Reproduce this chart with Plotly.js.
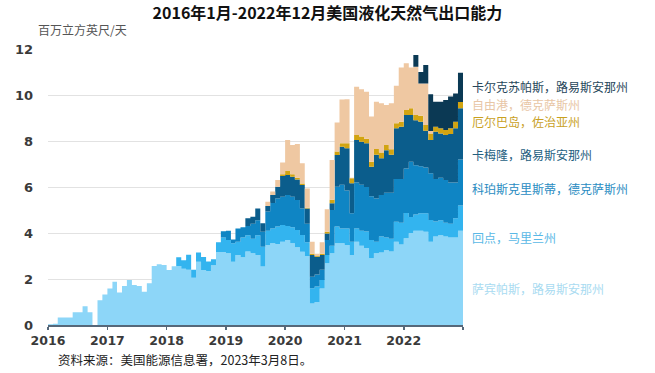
<!DOCTYPE html>
<html>
<head>
<meta charset="utf-8">
<script src="https://cdn.plot.ly/plotly-3.0.1.min.js"></script>
<style>html,body{margin:0;padding:0;background:#fff;}#chart{width:655px;height:373px;}</style>
</head>
<body>
<div id="chart"></div>
<script>
// Monthly LNG export capacity, Jan 2016 - Dec 2022 (one row per year)
const startYear = 2016;
const yearLabels = ['2016','2017','2018','2019','2020','2021','2022'];

const sabinePass = [
 0.03,0.05,0.33,0.33,0.33,0.55,0.55,0.82,0.55,0.00,1.08,1.33,
 1.59,1.88,1.41,1.70,1.96,1.74,1.70,1.45,1.81,2.57,2.64,2.61,
 2.39,2.55,2.57,2.45,2.40,2.05,2.75,2.39,2.35,2.60,3.17,3.17,
 3.12,2.75,3.04,2.95,3.20,3.12,3.04,2.54,3.48,3.55,3.52,3.62,
 3.70,3.55,3.38,3.19,3.00,0.94,1.00,1.59,2.68,3.12,3.55,3.55,
 3.48,3.04,3.62,3.45,3.35,2.90,3.12,3.15,3.25,3.20,3.62,3.50,
 3.77,4.00,4.10,4.10,4.05,3.62,3.85,3.90,3.85,3.80,3.80,4.10];
const covePoint = [
 0,0,0,0,0,0,0,0,0,0,0,0,
 0,0,0,0,0,0,0,0,0,0,0,0,
 0,0,0.38,0.37,0.65,0.35,0.40,0.57,0.41,0.26,0.43,0.63,
 0.58,0.80,0.58,0.85,0.70,0.63,0.86,0.86,0.62,0.65,0.76,0.73,
 0.60,0.70,0.75,0.72,0.60,0.66,0.67,0.37,0.36,0.33,0.73,0.65,
 0.72,0.58,0.58,0.65,0.71,0.80,0.50,0.70,0.55,0.55,0.87,0.95,
 1.10,0.70,0.70,0.76,0.81,0.95,0.65,0.65,0.60,0.60,0.84,1.10];
const corpusChristi = [
 0,0,0,0,0,0,0,0,0,0,0,0,
 0,0,0,0,0,0,0,0,0,0,0,0,
 0,0,0,0,0,0,0,0,0,0,0,0.28,
 0.40,0.17,0.58,0.45,0.40,0.65,0.65,0.65,0.83,1.10,1.22,1.23,
 1.35,1.33,1.30,1.16,0.80,0.50,0.53,0.44,0.66,1.55,1.73,1.90,
 1.65,1.24,2.00,2.00,1.94,1.90,1.88,1.80,1.95,2.00,1.86,1.90,
 1.93,2.40,2.15,2.04,1.99,2.03,1.85,1.85,1.85,1.80,1.56,2.00];
const cameron = [
 0,0,0,0,0,0,0,0,0,0,0,0,
 0,0,0,0,0,0,0,0,0,0,0,0,
 0,0,0,0,0,0,0,0,0,0,0,0,
 0,0,0,0,0.34,0.31,0.52,0.37,0.24,0.35,0.51,0.90,
 0.87,0.87,0.90,1.02,0.67,0.94,0.77,0.64,0.28,0.29,1.38,1.65,
 1.83,1.30,1.84,1.87,1.90,1.28,1.90,1.60,1.85,1.65,2.20,2.27,
 2.33,2.03,1.95,1.94,1.60,1.44,2.05,1.93,1.96,2.10,2.35,2.22];
const elbaIsland = [
 0,0,0,0,0,0,0,0,0,0,0,0,
 0,0,0,0,0,0,0,0,0,0,0,0,
 0,0,0,0,0,0,0,0,0,0,0,0,
 0,0,0,0,0,0,0,0,0,0,0,0.07,
 0.18,0.10,0.07,0.06,0.03,0.06,0.03,0.06,0.07,0.16,0.15,0.15,
 0.22,0.22,0.22,0.23,0.20,0.22,0.25,0.25,0.23,0.24,0.22,0.22,
 0.22,0.29,0.23,0.26,0.25,0.29,0.22,0.22,0.22,0.25,0.29,0.28];
const freeport = [
 0,0,0,0,0,0,0,0,0,0,0,0,
 0,0,0,0,0,0,0,0,0,0,0,0,
 0,0,0,0,0,0,0,0,0,0,0,0,
 0,0,0,0,0,0,0,0,0.19,0.15,0.29,0.51,
 1.34,1.28,1.47,0.88,0.84,0.52,0.10,0.50,0.98,1.72,1.26,1.90,
 1.91,0.02,2.10,2.05,2.04,1.96,2.06,2.14,1.74,2.00,1.63,2.36,
 2.03,1.78,2.10,1.40,1.80,0.10,0,0,0,0,0,0];
const calcasieuPass = [
 0,0,0,0,0,0,0,0,0,0,0,0,
 0,0,0,0,0,0,0,0,0,0,0,0,
 0,0,0,0,0,0,0,0,0,0,0,0,
 0,0,0,0,0,0,0,0,0,0,0,0,
 0,0,0,0,0,0,0,0,0,0,0,0,
 0,0,0,0,0,0,0,0,0,0,0,0,
 0,0,0.51,0.50,0.80,1.60,1.09,1.16,1.30,1.38,1.23,1.27];

const seriesNames = ['萨宾帕斯，路易斯安那州','回点，马里兰州','科珀斯克里斯蒂，德克萨斯州','卡梅隆，路易斯安那州','厄尔巴岛，佐治亚州','自由港，德克萨斯州','卡尔克苏帕斯，路易斯安那州'];
const seriesValues = [sabinePass, covePoint, corpusChristi, cameron, elbaIsland, freeport, calcasieuPass];
const fillColors = ['#8dd6f8','#33b4ef','#0f85c4','#0b5d8c','#d2a411','#efc8a2','#0b3954'];
const textColors = ['#a9dbf1','#5ab8e6','#2a8cc2','#24607f','#c9a11f','#e8c6a6','#27465a'];
const legendY = [288,237,188,154,122,104,86];

// month start dates plus closing edge
const n = sabinePass.length;
const xDates = [];
for (let i = 0; i <= n; i++) {
  const y = startYear + Math.floor(i/12), m = i % 12 + 1;
  xDates.push(y + '-' + (m < 10 ? '0' + m : m) + '-01');
}

const traces = seriesValues.map((vals, k) => ({
  type: 'scatter', mode: 'lines',
  x: xDates, y: vals.concat([vals[vals.length-1]]),
  stackgroup: 'lng',
  line: {shape: 'hv', width: 0, color: fillColors[k]},
  fillcolor: fillColors[k],
  name: seriesNames[k], hoverinfo: 'skip'
}));

const W = 655, H = 373, ml = 48, mr = 192, mt = 49, mb = 48;
const pw = W - ml - mr, ph = H - mt - mb;
const px = p => (p - ml) / pw;
const py = p => (H - mb - p) / ph;

const tickVals = yearLabels.map(s => s + '-01-01').concat([(startYear + yearLabels.length) + '-01-01']);
const tickText = yearLabels.concat(['']);

const cjk = 'Noto Sans CJK SC, sans-serif';
const annotations = seriesNames.map((t, k) => ({
  text: t, xref: 'paper', yref: 'paper', x: px(470), y: py(legendY[k]),
  xanchor: 'left', yanchor: 'middle', showarrow: false,
  font: {family: cjk, size: 12, color: textColors[k]}
}));
annotations.push({text: '百万立方英尺/天', xref: 'paper', yref: 'paper', x: px(36), y: py(30),
  xanchor: 'left', yanchor: 'middle', showarrow: false, font: {family: cjk, size: 12, color: '#555'}});
annotations.push({text: '资料来源：美国能源信息署，2023年3月8日。', xref: 'paper', yref: 'paper', x: px(56), y: py(359),
  xanchor: 'left', yanchor: 'middle', showarrow: false, font: {family: cjk, size: 12.5, color: '#222'}});

const layout = {
  width: W, height: H,
  margin: {l: ml, r: mr, t: mt, b: mb, pad: 0},
  paper_bgcolor: '#fff', plot_bgcolor: '#fff',
  showlegend: false,
  title: {text: '2016年1月-2022年12月美国液化天然气出口能力', x: 0.5, xanchor: 'center', y: 1 - 13/H, yanchor: 'middle',
    font: {family: cjk, size: 16, color: '#111', weight: 'bold'}},
  xaxis: {type: 'date', range: [xDates[0], xDates[n]], tickvals: tickVals, ticktext: tickText,
    showgrid: false, zeroline: false, showline: true, linecolor: '#56687a', linewidth: 1.5,
    ticks: 'outside', ticklen: 3, tickcolor: '#56687a', tickwidth: 1.5,
    tickfont: {family: 'DejaVu Sans', size: 12.5, color: '#3a3a3a', weight: 'bold'}},
  yaxis: {range: [0, 12], tickvals: [0,2,4,6,8,10,12], showgrid: true, gridcolor: '#e2e2e2', gridwidth: 1,
    zeroline: false, showline: false, ticks: '', ticklabelstandoff: 14,
    tickfont: {family: 'DejaVu Sans', size: 13, color: '#3a3a3a', weight: 'bold'}},
  annotations: annotations
};

Plotly.newPlot('chart', traces, layout, {displayModeBar: false, staticPlot: true});
</script>
</body>
</html>
